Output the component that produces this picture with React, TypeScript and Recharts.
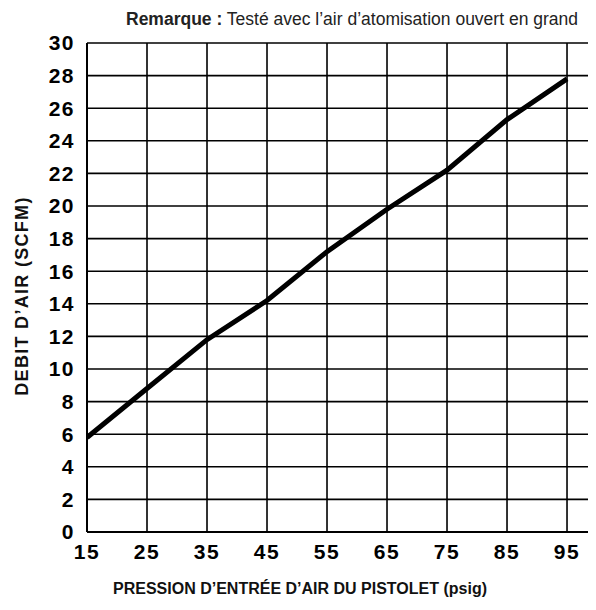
import React from "react";
import { LineChart, Line, XAxis, YAxis, CartesianGrid } from "recharts";

const pressures = [15, 25, 35, 45, 55, 65, 75, 85, 95];
const airFlow = [5.8, 8.8, 11.8, 14.2, 17.2, 19.8, 22.2, 25.3, 27.8];
const xTicks = [15, 25, 35, 45, 55, 65, 75, 85, 95];
const yTicks = [0, 2, 4, 6, 8, 10, 12, 14, 16, 18, 20, 22, 24, 26, 28, 30];

const noteBold = "Remarque :";
const noteText = " Testé avec l’air d’atomisation ouvert en grand";
const xTitle = "PRESSION D’ENTRÉE D’AIR DU PISTOLET (psig)";
const yTitle = "DEBIT D’AIR (SCFM)";

const data = pressures.map((p, i) => ({ p, flow: airFlow[i] }));

const FONT = "'Liberation Sans', Arial, Helvetica, sans-serif";

export default function App() {
  const W = 588;
  const H = 602;
  return (
    <div style={{ position: "relative", width: W, height: H, fontFamily: FONT }}>
      <LineChart
        width={W}
        height={H}
        data={data}
        margin={{ top: 35, right: 0, bottom: 48, left: 0 }}
      >
        <CartesianGrid stroke="#000" strokeWidth={1.6} strokeDasharray="" />
        <XAxis
          dataKey="p"
          type="number"
          domain={[15, 99.83]}
          allowDataOverflow
          ticks={xTicks}
          tickLine={false}
          tickSize={0}
          tickMargin={12}
          axisLine={{ stroke: "#000", strokeWidth: 2 }}
          height={30}
          tick={{ fill: "#000", fontSize: 21, fontWeight: 700, fontFamily: FONT, letterSpacing: 1.5 }}
        />
        <YAxis
          type="number"
          domain={[0, 30]}
          ticks={yTicks}
          interval={0}
          width={79}
          tickLine={false}
          tickSize={0}
          tickMargin={12}
          axisLine={{ stroke: "#000", strokeWidth: 2 }}
          tick={{ fill: "#000", fontSize: 21, fontWeight: 700, fontFamily: FONT, letterSpacing: 1.5 }}
        />
        <Line
          dataKey="flow"
          type="linear"
          stroke="#000"
          strokeWidth={5}
          dot={false}
          isAnimationActive={false}
        />
      </LineChart>
      <div
        style={{
          position: "absolute",
          left: 0,
          width: 688,
          top: 1,
          textAlign: "center",
          fontSize: 17.5,
          color: "#222",
          whiteSpace: "nowrap",
        }}
      >
        <b>{noteBold}</b>
        {noteText}
      </div>
      <div
        style={{
          position: "absolute",
          left: 0,
          width: 584,
          top: 572,
          textAlign: "center",
          fontSize: 16,
          fontWeight: 700,
          color: "#111",
          whiteSpace: "nowrap",
        }}
      >
        {xTitle}
      </div>
      <div
        style={{
          position: "absolute",
          left: 14,
          top: 288,
          width: 0,
          height: 0,
        }}
      >
        <div
          style={{
            position: "absolute",
            transform: "translate(-50%, -50%) rotate(-90deg)",
            fontSize: 18,
            fontWeight: 700,
            letterSpacing: 1.3,
            color: "#111",
            whiteSpace: "nowrap",
          }}
        >
          {yTitle}
        </div>
      </div>
    </div>
  );
}
